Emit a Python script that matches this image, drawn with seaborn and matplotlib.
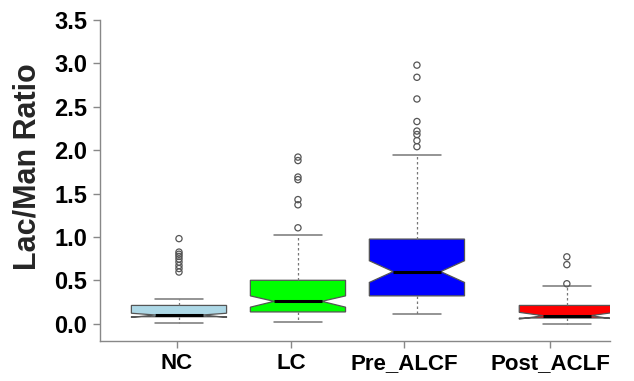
import matplotlib
matplotlib.use("Agg")
import matplotlib.pyplot as plt
import seaborn as sns
import pandas as pd

# ---- data ----
categories = ["NC", "LC", "Pre_ALCF", "Post_ACLF"]
q1 = [0.08, 0.135, 0.32, 0.065]
medians = [0.10, 0.257, 0.60, 0.092]
q3 = [0.21, 0.50, 0.975, 0.21]
whisk_lo = [0.012, 0.015, 0.115, 0.0]
whisk_hi = [0.288, 1.025, 1.94, 0.43]
notch_lo = [0.072, 0.19, 0.475, 0.052]
notch_hi = [0.12, 0.32, 0.725, 0.13]
nc_outliers = [0.98, 0.825, 0.80, 0.775, 0.745, 0.71, 0.67, 0.635, 0.595]
lc_outliers = [1.92, 1.88, 1.69, 1.66, 1.43, 1.37, 1.105]
pre_outliers = [2.98, 2.84, 2.59, 2.33, 2.22, 2.18, 2.11, 2.04]
post_outliers = [0.77, 0.68, 0.46]
outliers = [nc_outliers, lc_outliers, pre_outliers, post_outliers]
y_ticks = [0.0, 0.5, 1.0, 1.5, 2.0, 2.5, 3.0, 3.5]

# ---- style ----
box_colors = ["#add8e6", "#00ff00", "#0000ff", "#ff0000"]
box_pos = [0.0, 1.0, 2.0, 3.26]
tick_pos = [-0.02, 0.94, 1.89, 3.12]

sns.set_style("ticks")
plt.rcParams["font.family"] = ["Liberation Sans", "DejaVu Sans"]
plt.rcParams["font.weight"] = "bold"

fig = plt.figure(figsize=(6.34, 3.81), dpi=100)
ax = fig.add_axes([0.1577, 0.105, 0.962 - 0.1577, 0.9588 - 0.105])

stats = []
for i, name in enumerate(categories):
    stats.append(dict(label=name, med=medians[i], q1=q1[i], q3=q3[i],
                      whislo=whisk_lo[i], whishi=whisk_hi[i],
                      cilo=notch_lo[i], cihi=notch_hi[i], fliers=[]))

edge = "#555555"
bp = ax.bxp(stats, positions=box_pos, widths=0.8, shownotches=True, patch_artist=True,
            showfliers=False, manage_ticks=False,
            boxprops=dict(edgecolor=edge, linewidth=0.9),
            whiskerprops=dict(color="#777777", linewidth=0.9, linestyle=(0, (2, 2))),
            capprops=dict(color="#777777", linewidth=1.1),
            medianprops=dict(color="black", linewidth=2.2))
for patch, c in zip(bp["boxes"], box_colors):
    patch.set_facecolor(c)

# outliers via seaborn
rows = []
for i, name in enumerate(categories):
    for v in outliers[i]:
        rows.append({"x": box_pos[i], "y": v})
df_out = pd.DataFrame(rows)
sns.scatterplot(data=df_out, x="x", y="y", ax=ax, marker="o", s=20,
                facecolors="none", edgecolor="#555555", linewidth=0.9, zorder=5)

ax.set_xlim(-0.664, 3.622)
ax.set_ylim(-0.2, 3.55)
ax.set_yticks(y_ticks)
ax.set_yticklabels([f"{t:.1f}" for t in y_ticks], fontsize=17, fontweight="bold")
ax.set_xticks(tick_pos)
ax.set_xticklabels(categories, fontsize=16, fontweight="bold")
ax.set_xlabel("")
ax.set_ylabel("Lac/Man Ratio", fontsize=22, fontweight="bold")
ax.yaxis.set_label_coords(-0.112, 0.535)

for s in ["top", "right"]:
    ax.spines[s].set_visible(False)
ax.spines["left"].set_bounds(-0.2, 3.5)
ax.spines["bottom"].set_bounds(-0.664, 3.62)
for s in ["left", "bottom"]:
    ax.spines[s].set_color("#888888")
    ax.spines[s].set_linewidth(1.0)
ax.tick_params(axis="both", colors="#888888", labelcolor="black", length=5, width=1.0)
ax.tick_params(axis="x", pad=4)
ax.tick_params(axis="y", pad=4)

fig.savefig("out.png", dpi=100)
